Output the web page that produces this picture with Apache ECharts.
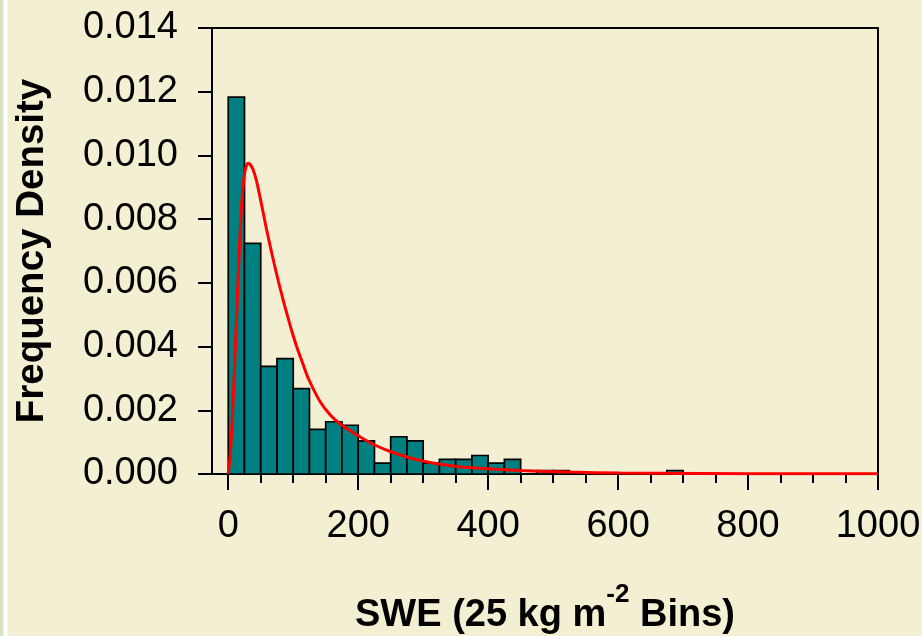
<!DOCTYPE html>
<html><head><meta charset="utf-8">
<script src="https://cdn.jsdelivr.net/npm/echarts@6/dist/echarts.min.js"></script>
<style>html,body{margin:0;padding:0;background:#f2efd2}#c{width:922px;height:636px}</style>
</head><body><div id="c"></div><script>
// Histogram bins (left edge, SWE kg m-2) and frequency densities
const binWidth = 25;
const binStarts = [0,25,50,75,100,125,150,175,200,225,250,275,300,325,350,375,400,425,450,475,500,525,550,575,600,625,650,675];
const binValues = [0.01183,0.00724,0.00338,0.00362,0.00268,0.00140,0.00164,0.00153,0.00104,0.00034,0.00117,0.00104,0.00034,0.00046,0.00046,0.00058,0.00034,0.00046,0,0.00011,0.00011,0,0,0,0,0,0,0.00011];
// Fitted density curve
const curveX = [0,3.08,6.16,9.24,12.32,15.4,18.48,21.56,24.64,27.72,30.8,33.88,38.5,43.12,47.74,52.36,58.52,64.68,70.83,77.46,83.92,90.39,97.78,105.79,114.72,123.65,141.67,157.07,172.47,198.18,223.75,249.46,275.18,300.74,326.46,352.17,377.73,418.85,449.65,526.64,603.63,726.82,880.81,1000];
const curveY = [0,0.000596,0.001695,0.003108,0.004677,0.006247,0.007659,0.008726,0.009354,0.009668,0.009753,0.009715,0.009543,0.009229,0.008805,0.00835,0.007722,0.007141,0.006592,0.006027,0.005509,0.005022,0.004489,0.003971,0.003469,0.002982,0.00226,0.001852,0.00157,0.001224,0.000926,0.000706,0.000534,0.000399,0.000304,0.000239,0.000195,0.000138,0.000107,0.0000596,0.0000314,0.0000157,0.0000063,0.000004];
// Axis ticks
const xMajorTicks = [0,200,400,600,800,1000];
const xMinorTicks = [50,100,150,250,300,350,450,500,550,650,700,750,850,900,950];

const FONT = 'Liberation Sans, Arial, sans-serif';
const chart = echarts.init(document.getElementById('c'), null, {renderer:'canvas'});
const barData = binStarts.map((s,i)=>[s, s+binWidth, binValues[i]]);
const lineData = curveX.map((x,i)=>[x, curveY[i]]);

chart.setOption({
  backgroundColor:'#f2efd2',
  animation:false,
  graphic:[
    {type:'rect', left:0, top:0, shape:{width:3.5,height:636}, style:{fill:'#d3e3bf'}, z:-1},
    {type:'rect', left:3.5, top:0, shape:{width:4,height:636}, style:{fill:'#ffffff'}, z:-1}
  ],
  grid:{left:212, right:44, top:28, bottom:162, containLabel:false, outerBoundsMode:'none'},
  xAxis:[
    {type:'value', min:-25, max:1000, position:'bottom',
     axisLine:{show:true,onZero:false,lineStyle:{color:'#000',width:2}},
     axisTick:{show:true,inside:false,length:16,customValues:xMajorTicks,lineStyle:{color:'#000',width:2}},
     axisLabel:{show:true,customValues:xMajorTicks,margin:34,color:'#000',fontSize:38,fontFamily:FONT,formatter:v=>String(v)},
     splitLine:{show:false},
     name:'{a|SWE (25 kg m}{s|-2}{a| Bins)}', nameLocation:'middle', nameGap:108,
     nameTextStyle:{rich:{
       a:{fontSize:38,fontWeight:'bold',fontFamily:FONT,color:'#000',lineHeight:68,verticalAlign:'middle'},
       s:{fontSize:26,fontWeight:'bold',fontFamily:FONT,color:'#000',lineHeight:26,verticalAlign:'top'}
     }}},
    {type:'value', min:-25, max:1000, position:'bottom',
     axisLine:{show:false},
     axisTick:{show:true,inside:false,length:9,customValues:xMinorTicks,lineStyle:{color:'#000',width:2}},
     axisLabel:{show:false}, splitLine:{show:false}},
    {type:'value', min:-25, max:1000, position:'top',
     axisLine:{show:true,onZero:false,lineStyle:{color:'#000',width:2}},
     axisTick:{show:false}, axisLabel:{show:false}, splitLine:{show:false}}
  ],
  yAxis:[
    {type:'value', min:0, max:0.014, interval:0.002, position:'left',
     axisLine:{show:true,onZero:false,lineStyle:{color:'#000',width:2}},
     axisTick:{show:true,inside:false,length:14,lineStyle:{color:'#000',width:2}},
     axisLabel:{margin:34,color:'#000',fontSize:38,fontFamily:FONT,formatter:v=>v.toFixed(3)},
     splitLine:{show:false},
     name:'Frequency Density', nameLocation:'middle', nameGap:160, nameRotate:90,
     nameTextStyle:{fontSize:38.5,fontWeight:'bold',fontFamily:FONT,color:'#000'}},
    {type:'value', min:0, max:0.014, interval:0.002, position:'right',
     axisLine:{show:true,onZero:false,lineStyle:{color:'#000',width:2}},
     axisTick:{show:false}, axisLabel:{show:false}, splitLine:{show:false}}
  ],
  series:[
    {type:'custom', xAxisIndex:0, yAxisIndex:0, z:2, data:barData,
     encode:{x:[0,1], y:2},
     renderItem:function(params, api){
       const x0 = api.value(0), x1 = api.value(1), v = api.value(2);
       if (!v) return null;
       const p0 = api.coord([x0, v]);
       const p1 = api.coord([x1, 0]);
       return {type:'rect', shape:{x:p0[0], y:p0[1], width:p1[0]-p0[0], height:p1[1]-p0[1]},
               style:{fill:'#008080', stroke:'#000', lineWidth:1.7}};
     }},
    {type:'line', xAxisIndex:0, yAxisIndex:0, z:3, data:lineData, showSymbol:false,
     smooth:0.3, clip:true,
     lineStyle:{color:'#ff0000', width:3}}
  ]
});
</script></body></html>
